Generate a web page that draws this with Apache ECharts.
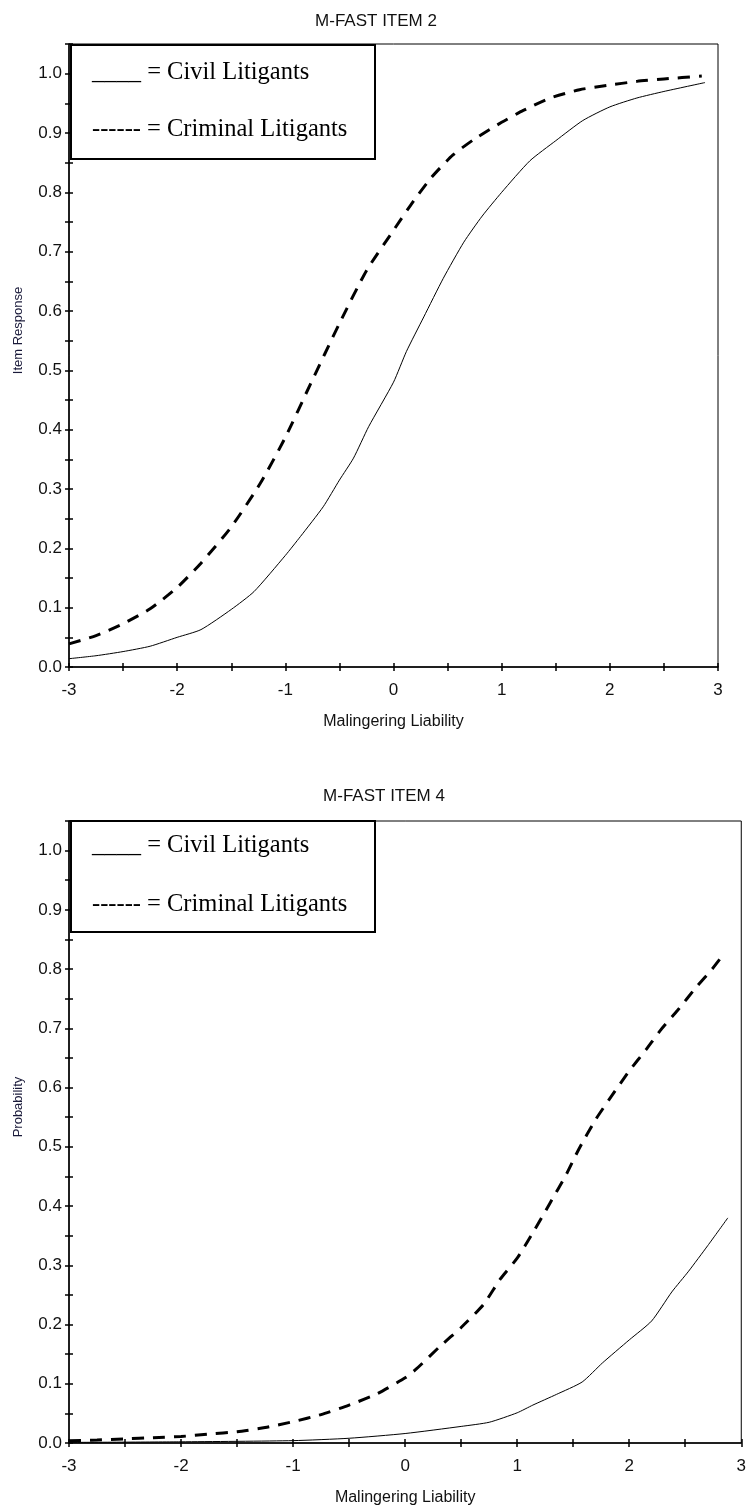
<!DOCTYPE html>
<html lang="en">

<head>
    <meta charset="UTF-8">
    <title>M-FAST item curves</title>
    <style>
        html,
        body {
            margin: 0;
            padding: 0;
            background: #fff;
        }
    </style>
</head>

<body>
    <div id="main" style="width: 749px;height:1509px;"></div>
    <script src="https://cdn.jsdelivr.net/npm/echarts@6/dist/echarts.min.js"></script>
    <script type="text/javascript">
        // item 2, civil litigants (solid)
        var item2CivilX = [-3.0, -2.75, -2.5, -2.25, -2.0, -1.78, -1.5, -1.29, -1.0, -0.86, -0.65, -0.5, -0.37, -0.23, 0.0, 0.12, 0.28, 0.46, 0.65, 0.82, 1.0, 1.26, 1.5, 1.75, 2.0, 2.25, 2.5, 2.88];
        var item2CivilY = [0.014, 0.019, 0.026, 0.035, 0.050, 0.063, 0.097, 0.127, 0.188, 0.22, 0.27, 0.315, 0.352, 0.405, 0.48, 0.532, 0.59, 0.655, 0.716, 0.76, 0.80, 0.853, 0.887, 0.921, 0.944, 0.959, 0.970, 0.985];
        // item 2, criminal litigants (dashed)
        var item2CrimX = [-3.0, -2.75, -2.5, -2.25, -2.0, -1.78, -1.5, -1.23, -1.0, -0.77, -0.5, -0.25, 0.0, 0.18, 0.35, 0.55, 0.75, 1.0, 1.2, 1.45, 1.72, 1.97, 2.25, 2.5, 2.85];
        var item2CrimY = [0.039, 0.053, 0.073, 0.098, 0.134, 0.175, 0.236, 0.31, 0.387, 0.476, 0.579, 0.668, 0.736, 0.784, 0.825, 0.863, 0.89, 0.918, 0.938, 0.959, 0.973, 0.980, 0.987, 0.991, 0.996];
        // item 4, civil litigants (solid)
        var item4CivilX = [-3.0, -2.0, -1.0, -0.5, 0.0, 0.5, 0.75, 1.0, 1.14, 1.35, 1.58, 1.76, 2.0, 2.2, 2.38, 2.53, 2.7, 2.88];
        var item4CivilY = [0.001, 0.002, 0.004, 0.008, 0.016, 0.028, 0.035, 0.051, 0.064, 0.082, 0.103, 0.135, 0.174, 0.206, 0.255, 0.29, 0.333, 0.38];
        // item 4, criminal litigants (dashed)
        var item4CrimX = [-3.0, -2.75, -2.5, -2.25, -2.0, -1.75, -1.5, -1.25, -1.0, -0.75, -0.5, -0.25, 0.0, 0.1, 0.31, 0.5, 0.7, 0.85, 1.0, 1.14, 1.29, 1.44, 1.55, 1.7, 1.84, 2.0, 2.15, 2.28, 2.43, 2.6, 2.74, 2.85];
        var item4CrimY = [0.004, 0.005, 0.007, 0.009, 0.011, 0.015, 0.019, 0.026, 0.036, 0.048, 0.064, 0.083, 0.11, 0.125, 0.163, 0.195, 0.234, 0.277, 0.312, 0.355, 0.404, 0.454, 0.496, 0.546, 0.585, 0.628, 0.664, 0.697, 0.73, 0.77, 0.80, 0.827];

        var chartTitles = ['M-FAST ITEM 2', 'M-FAST ITEM 4'];
        var yNames = ['Item Response', 'Probability'];
        var xName = 'Malingering Liability';
        var legendLines = ['____ = Civil Litigants', '------ = Criminal Litigants'];

        var sansFont = "'Liberation Sans', Arial, sans-serif";
        var serifFont = "'Liberation Serif', 'Times New Roman', serif";

        function pairs(xs, ys) {
            return xs.map(function (x, i) { return [x, ys[i]]; });
        }

        var grids = [
            { left: 69, top: 44, width: 649, height: 623 },
            { left: 69, top: 821, width: 673, height: 622 }
        ];

        var xAxes = [], yAxes = [];
        grids.forEach(function (g, i) {
            // main x axis with labels, ticks pointing down
            xAxes.push({
                gridIndex: i, type: 'value', position: 'bottom',
                min: -3, max: 3, interval: 0.5,
                name: xName, nameLocation: 'middle', nameGap: 47,
                nameTextStyle: { color: '#111', fontFamily: sansFont, fontSize: 16 },
                axisLine: { onZero: false, lineStyle: { color: '#000', width: 1.5 } },
                axisTick: { length: 4, lineStyle: { color: '#000', width: 1.5 } },
                axisLabel: {
                    margin: 15, color: '#111', fontFamily: sansFont, fontSize: 17,
                    formatter: function (v) {
                        return Math.abs(v - Math.round(v)) < 1e-6 ? String(Math.round(v)) : '';
                    }
                },
                splitLine: { show: false }
            });
            // second x axis, only the inner half of the ticks
            xAxes.push({
                gridIndex: i, type: 'value', position: 'bottom',
                min: -3, max: 3, interval: 0.5,
                axisLine: { show: false, onZero: false },
                axisTick: { inside: true, length: 4, lineStyle: { color: '#000', width: 1.5 } },
                axisLabel: { show: false },
                splitLine: { show: false }
            });
            yAxes.push({
                gridIndex: i, type: 'value', position: 'left',
                min: 0, max: 1.05, interval: 0.05,
                name: yNames[i], nameLocation: 'middle', nameGap: 44,
                nameTextStyle: { color: '#1a1a3a', fontFamily: sansFont, fontSize: 13, padding: [0, 0, 0, 50] },
                axisLine: { onZero: false, lineStyle: { color: '#000', width: 1.5 } },
                axisTick: { length: 4, lineStyle: { color: '#000', width: 1.5 } },
                axisLabel: {
                    margin: 7, color: '#111', fontFamily: sansFont, fontSize: 17,
                    formatter: function (v) {
                        var k = Math.round(v * 20);
                        return (k % 2 === 0 && k <= 20) ? (k / 20).toFixed(1) : '';
                    }
                },
                splitLine: { show: false }
            });
            yAxes.push({
                gridIndex: i, type: 'value', position: 'left',
                min: 0, max: 1.05, interval: 0.05,
                axisLine: { show: false, onZero: false },
                axisTick: { inside: true, length: 4, lineStyle: { color: '#000', width: 1.5 } },
                axisLabel: { show: false },
                splitLine: { show: false }
            });
        });

        function solid(name, grid, data) {
            return {
                name: name, type: 'line', xAxisIndex: grid * 2, yAxisIndex: grid * 2,
                data: data, symbol: 'none', smooth: 0.2, silent: true,
                lineStyle: { color: '#000', width: 1 }
            };
        }
        function dashed(name, grid, data) {
            return {
                name: name, type: 'line', xAxisIndex: grid * 2, yAxisIndex: grid * 2,
                data: data, symbol: 'none', smooth: 0.2, silent: true,
                lineStyle: { color: '#000', width: 3, type: [12, 9], cap: 'butt' }
            };
        }

        // hand made legend boxes, like the pasted text boxes of the original
        function legendBox(top, h, y1, y2) {
            return [
                { type: 'rect', shape: { x: 71, y: top + 1, width: 304, height: h }, style: { fill: '#fff', stroke: '#000', lineWidth: 2 }, z: 100 },
                { type: 'text', x: 92, y: y1, style: { text: legendLines[0], font: '24.5px ' + serifFont, fill: '#000', textVerticalAlign: 'middle' }, z: 101 },
                { type: 'text', x: 92, y: y2, style: { text: legendLines[1], font: '24.5px ' + serifFont, fill: '#000', textVerticalAlign: 'middle' }, z: 101 }
            ];
        }

        var myChart = echarts.init(document.getElementById('main'));
        var option = {
            animation: false,
            backgroundColor: '#fff',
            title: [
                { text: chartTitles[0], left: 371, top: 8, textAlign: 'center', textStyle: { color: '#111', fontFamily: sansFont, fontSize: 17, fontWeight: 'normal' } },
                { text: chartTitles[1], left: 379, top: 783, textAlign: 'center', textStyle: { color: '#111', fontFamily: sansFont, fontSize: 17, fontWeight: 'normal' } }
            ],
            grid: grids.map(function (g) {
                return { left: g.left, top: g.top, width: g.width, height: g.height, show: true, borderColor: '#000', borderWidth: 1, backgroundColor: 'transparent' };
            }),
            xAxis: xAxes,
            yAxis: yAxes,
            graphic: legendBox(44, 114, 73, 130).concat(legendBox(820, 111, 846, 905)),
            series: [
                solid('Civil Litigants', 0, pairs(item2CivilX, item2CivilY)),
                dashed('Criminal Litigants', 0, pairs(item2CrimX, item2CrimY)),
                solid('Civil Litigants', 1, pairs(item4CivilX, item4CivilY)),
                dashed('Criminal Litigants', 1, pairs(item4CrimX, item4CrimY))
            ]
        };
        myChart.setOption(option);
        window.addEventListener("resize", function () {
            myChart.resize();
        });
    </script>
</body>

</html>
